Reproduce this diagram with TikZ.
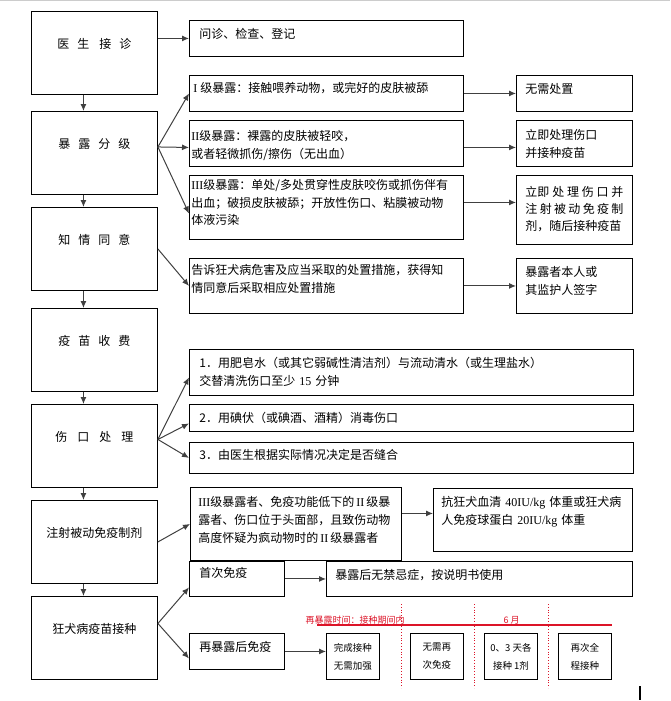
\documentclass[tikz,border=0pt]{standalone}
\usepackage{fontspec}
\setmainfont{Noto Sans CJK SC}
\newfontfamily\rmn{Liberation Serif}
\usepackage{tikz}
\usetikzlibrary{arrows.meta}
\definecolor{tlred}{RGB}{220,20,40}
\newcommand{\cgap}{\hspace{8pt}}

\begin{document}
\begin{tikzpicture}[x=1pt, y=-1pt,
  lbox/.style={draw, line width=0.9pt, anchor=north west, inner sep=0pt, text width=126pt,
               align=center, text height=37.5pt, text depth=45.5pt, font=\fontsize{12}{17.5}\selectfont},
  mbox/.style={draw, line width=0.9pt, anchor=north west, inner xsep=10pt, inner ysep=0pt,
               align=left, font=\fontsize{12}{17.5}\selectfont},
  rbox/.style={mbox, inner xsep=9pt, text width=98pt},
  sbox/.style={draw, line width=0.9pt, anchor=north west, inner sep=0pt, minimum width=53pt,
               minimum height=46pt, align=center, font=\fontsize{9.5}{18}\selectfont},
  arr/.style={-{Latex[length=7pt,width=6pt]}, line width=1pt, black!75},
  tl/.style={tlred, font=\fontsize{9}{11}\selectfont}]

  \useasboundingbox (0,0) rectangle (670,701);
  \draw[black!20, line width=1.2pt] (0,0.6) -- (670,0.6);

  % left column, top to bottom
  \node[lbox] (doc) at (31,11)  {医\cgap 生\hspace{10pt}接\cgap 诊};
  \node[lbox] (exp) at (31,111) {暴\cgap 露\cgap 分\cgap 级};
  \node[lbox] (con) at (31,207) {知\cgap 情\cgap 同\cgap 意};
  \node[lbox] (fee) at (31,308) {疫\cgap 苗\cgap 收\cgap 费};
  \node[lbox] (wnd) at (31,404) {伤\hspace{10pt}口\hspace{10pt}处\hspace{10pt}理};
  \node[lbox] (inj) at (31,500) {注射被动免疫制剂};
  \node[lbox] (rab) at (31,596) {狂犬病疫苗接种};

  \foreach \a/\b in {doc/exp, exp/con, con/fee, fee/wnd, wnd/inj, inj/rab}
    \draw[arr] ([xshift=-11pt]\a.south) -- ([xshift=-11pt]\b.north);

  % middle column
  \node[mbox, text width=254pt, text height=18.5pt, text depth=17.5pt] (wz) at (189,20) {问诊、检查、登记};
  \node[mbox, text width=254pt, text height=17.5pt, text depth=18.5pt] (g1) at (189,75)
    {\hspace*{-6pt}{\rmn I}\hspace{3pt}级暴露：接触喂养动物，或完好的皮肤被舔};
  \node[mbox, inner xsep=2pt, text width=270pt, text height=20.5pt, text depth=25.5pt] (g2) at (189,120)
    {{\rmn II}级暴露：裸露的皮肤被轻咬，\\或者轻微抓伤/擦伤（无出血）};
  \node[mbox, inner xsep=2pt, text width=270pt, text height=14.5pt, text depth=49.5pt] (g3) at (189,175)
    {{\rmn III}级暴露：单处/多处贯穿性皮肤咬伤或抓伤伴有\\出血；破损皮肤被舔；开放性伤口、粘膜被动物\\体液污染};
  \node[mbox, inner xsep=2pt, text width=270pt, text height=16.5pt, text depth=38.5pt] (tell) at (189,258)
    {告诉狂犬病危害及应当采取的处置措施，获得知\\情同意后采取相应处置措施};

  % right column
  \node[rbox, text height=18.5pt, text depth=17.5pt] (r1) at (516,75) {无需处置};
  \node[rbox, text height=19.5pt, text depth=26.5pt] (r2) at (516,120) {立即处理伤口\\并接种疫苗};
  \node[rbox, text height=21.5pt, text depth=47.5pt, font=\fontsize{12}{17}\selectfont] (r3) at (516,175)
    {\makebox[98pt][s]{立即\hfill 处\hfill 理\hfill 伤\hfill 口\hfill 并}\\
     \makebox[98pt][s]{注\hfill 射\hfill 被\hfill 动\hfill 免\hfill 疫\hfill 制}\\
     剂，随后接种疫苗};
  \node[rbox, text height=18.5pt, text depth=36.5pt] (r4) at (516,258) {暴露者本人或\\其监护人签字};

  % wound care
  \node[mbox, text width=424pt, text height=18.5pt, text depth=27.5pt] (w1) at (189,349)
    {1．用肥皂水（或其它弱碱性清洁剂）与流动清水（或生理盐水）\\交替清洗伤口至少 {\rmn 15} 分钟};
  \node[mbox, text width=424pt, text height=18.5pt, text depth=8.5pt] (w2) at (189,404)
    {2．用碘伏（或碘酒、酒精）消毒伤口};
  \node[mbox, text width=424pt, text height=17.5pt, text depth=13.5pt] (w3) at (189,442)
    {3．由医生根据实际情况决定是否缝合};

  % passive immunization
  \node[mbox, inner xsep=8pt, text width=195pt, text height=19.5pt, text depth=53.5pt,
        font=\fontsize{12}{18}\selectfont] (pas) at (190,487)
    {\mbox{{\rmn III}级暴露者、免疫功能低下的\,{\rmn II}\,级暴}\\
     露者、伤口位于头面部，且致伤动物\\
     \mbox{高度怀疑为疯动物时的\,{\rmn II}\,级暴露者}};
  \node[mbox, inner xsep=8pt, text width=183pt, text height=18.5pt, text depth=44.5pt,
        font=\fontsize{12}{18}\selectfont] (ser) at (433,488)
    {抗狂犬血清 {\rmn 40IU/kg} 体重或狂犬病\\人免疫球蛋白 {\rmn 20IU/kg} 体重};

  % vaccination
  \node[mbox, text width=75pt, text height=16.5pt, text depth=18.5pt] (fst) at (189,561) {首次免疫};
  \node[mbox, inner xsep=9pt, text width=288pt, text height=18.5pt, text depth=16.5pt] (sym) at (326,561)
    {暴露后无禁忌症，按说明书使用};
  \node[mbox, text width=75pt, text height=18.5pt, text depth=17.5pt] (rex) at (189,633) {再暴露后免疫};

  \node[sbox] (c1) at (326,633) {完成接种\\无需加强};
  \node[sbox] (c2) at (410,633) {无需再\\次免疫};
  \node[sbox] (c3) at (484,633) {0、3 天各\\接种 1剂};
  \node[sbox] (c4) at (558,633) {再次全\\程接种};

  % re-exposure time line
  \draw[tlred, line width=1.8pt] (317,625) -- (612,625);
  \foreach \x in {401,474,548}
    \draw[tlred, line width=0.8pt, dotted] (\x,604) -- (\x,688);
  \node[tl, anchor=base west] (rt) at (302,623) {再暴露时间：接种期间内};
  \node[tl, anchor=base west] (mt) at (500,623) {6 月};
  \draw[line width=1.6pt] (640,686) -- (640,700);

  % connectors
  \draw[arr] (doc.east |- wz.west) -- (wz.west);
  \draw[arr] ([yshift=6pt]exp.east) -- (g1.west);
  \draw[arr] ([yshift=6pt]exp.east) -- ([yshift=-4pt]g2.west);
  \draw[arr] ([yshift=6pt]exp.east) -- ([yshift=-6pt]g3.west);
  \draw[arr] (con.east) -- (tell.west);
  \draw[arr] (g1.east) -- (g1.east -| r1.west);
  \draw[arr] ([yshift=-4pt]g2.east) -- ([yshift=-4pt]g2.east -| r2.west);
  \draw[arr] ([yshift=5pt]g3.east) -- ([yshift=5pt]g3.east -| r3.west);
  \draw[arr] (tell.east) -- (tell.east -| r4.west);
  \draw[arr] ([yshift=6.5pt]wnd.east) -- ([yshift=-5pt]w1.west);
  \draw[arr] ([yshift=6.5pt]wnd.east) -- ([yshift=-5.5pt]w2.west);
  \draw[arr] ([yshift=6.5pt]wnd.east) -- (w3.west);
  \draw[arr] (inj.east) -- (pas.west);
  \draw[arr] ([yshift=10.5pt]pas.east) -- ([yshift=10.5pt]pas.east -| ser.west);
  \draw[arr] ([yshift=14.5pt]rab.east) -- ([yshift=-8.5pt]fst.west);
  \draw[arr] ([yshift=14.5pt]rab.east) -- ([yshift=-7pt]rex.west);
  \draw[arr] (fst.east) -- (fst.east -| sym.west);
  \draw[arr] (rex.east) -- (rex.east -| c1.west);
\end{tikzpicture}
\end{document}
